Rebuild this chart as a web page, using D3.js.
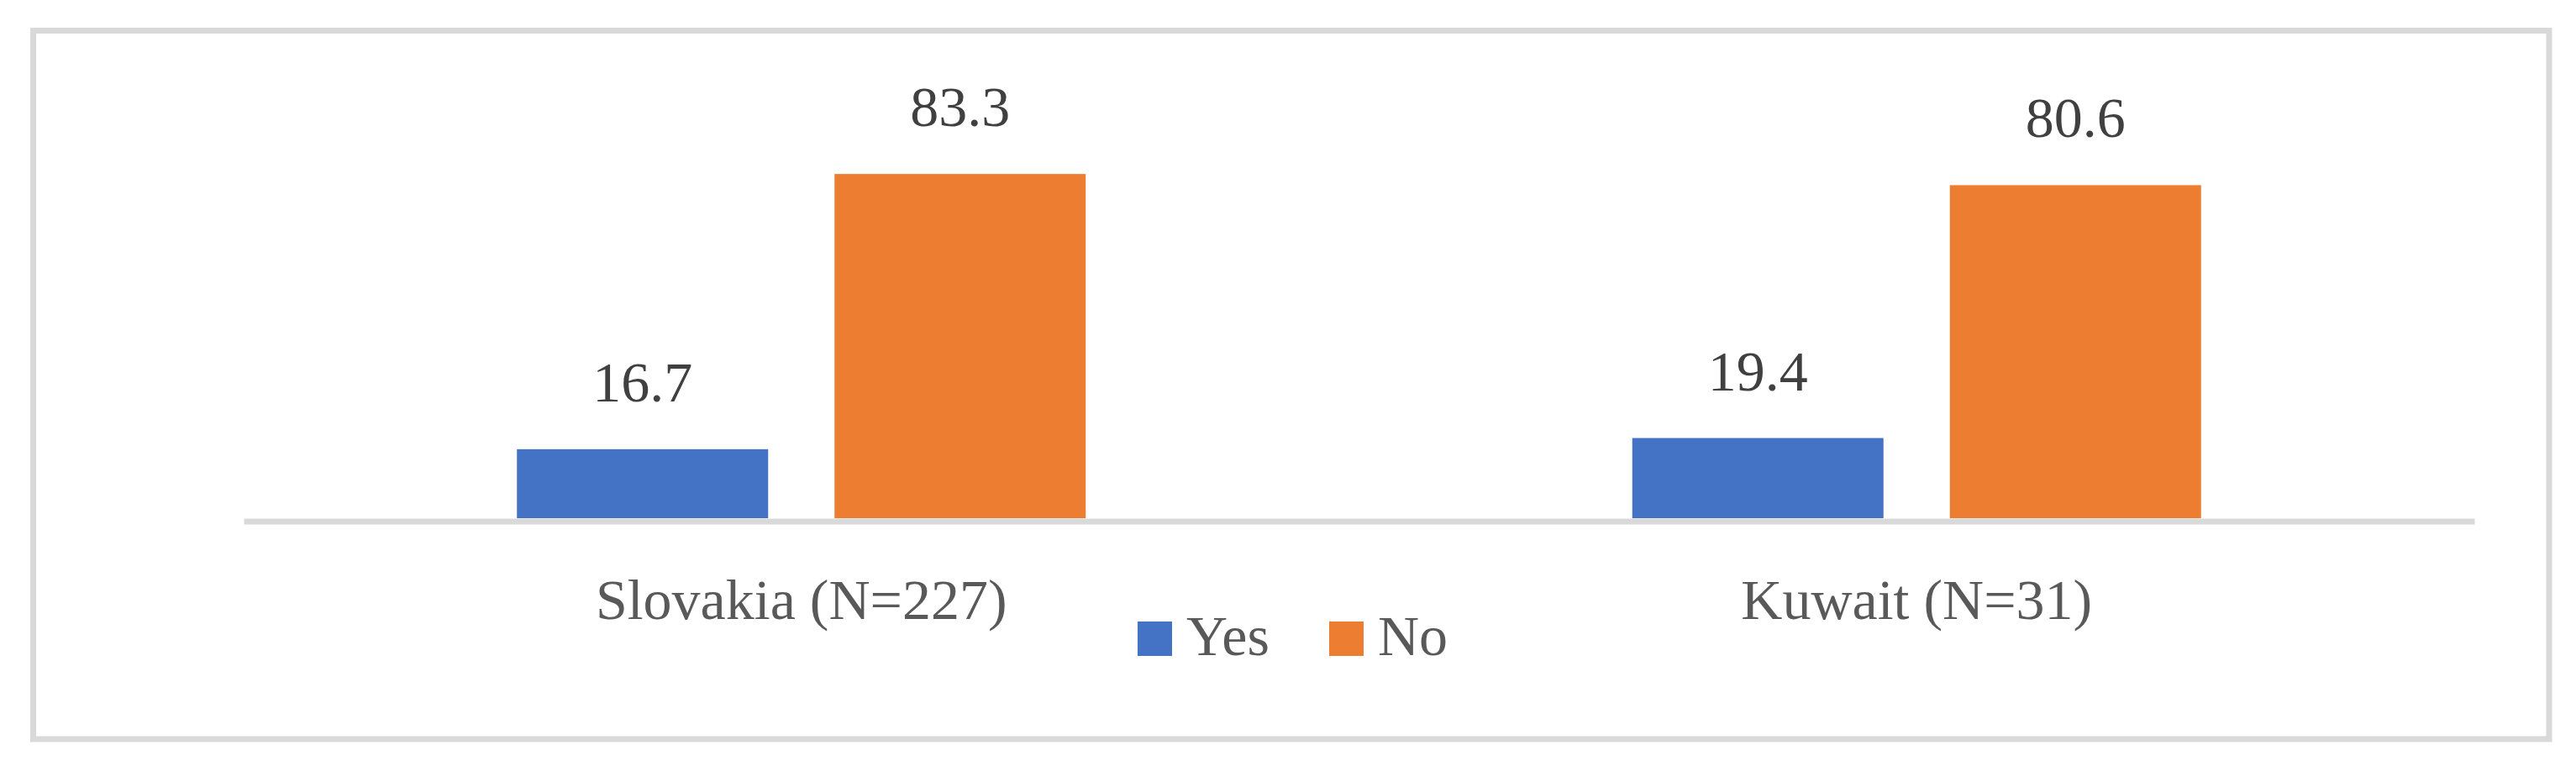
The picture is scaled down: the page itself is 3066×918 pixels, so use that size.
<!DOCTYPE html>
<html>
<head>
<meta charset="utf-8">
<script src="https://cdn.jsdelivr.net/npm/d3@7"></script>
<style>
  html, body { margin: 0; padding: 0; background: #ffffff; }
  svg { display: block; }
</style>
</head>
<body>
<svg id="chart" width="3066" height="918"></svg>
<script>
const categories = ["Slovakia (N=227)", "Kuwait (N=31)"];
const seriesNames = ["Yes", "No"];
const yesValues = [16.7, 19.4];
const noValues = [83.3, 80.6];
const seriesColors = ["#4472C4", "#ED7D31"];

const W = 3066, H = 918;
const svg = d3.select("#chart");
const font = "'Liberation Serif', 'Times New Roman', serif";

// outer frame
svg.append("rect")
  .attr("x", 39.5).attr("y", 36.5)
  .attr("width", 3034 - 39.5).attr("height", 880 - 36.5)
  .attr("fill", "#ffffff")
  .attr("stroke", "#D9D9D9").attr("stroke-width", 7);

const plotLeft = 290, plotRight = 2945;
const baseY = 617;

const x0 = d3.scaleBand().domain(categories).range([plotLeft, plotRight]).paddingInner(0).paddingOuter(0);
const groupPad = 325.25;
const x1 = d3.scaleBand().domain(seriesNames)
  .range([groupPad, x0.bandwidth() - groupPad])
  .paddingInner(0.209).paddingOuter(0);
const y = d3.scaleLinear().domain([0, 100]).range([baseY, baseY - 492]);

const table = categories.map((c, i) => ({
  category: c,
  values: [{ s: "Yes", v: yesValues[i] }, { s: "No", v: noValues[i] }]
}));
const color = d3.scaleOrdinal().domain(seriesNames).range(seriesColors);

const groups = svg.append("g").selectAll("g").data(table).join("g")
  .attr("transform", d => `translate(${x0(d.category)},0)`);

groups.selectAll("rect").data(d => d.values).join("rect")
  .attr("x", d => x1(d.s))
  .attr("y", d => y(d.v))
  .attr("width", x1.bandwidth())
  .attr("height", d => y(0) - y(d.v))
  .attr("fill", d => color(d.s));

groups.selectAll("text.val").data(d => d.values).join("text")
  .attr("class", "val")
  .attr("x", d => x1(d.s) + x1.bandwidth() / 2)
  .attr("y", d => y(d.v) - 57)
  .attr("text-anchor", "middle")
  .attr("font-family", font)
  .attr("font-size", 68)
  .attr("fill", "#404040")
  .text(d => d.v.toFixed(1));

// x axis
const axisG = svg.append("g")
  .attr("transform", `translate(0,${baseY + 3.5})`)
  .call(d3.axisBottom(x0).tickSize(0).tickSizeOuter(0));
axisG.select(".domain").attr("stroke", "#D9D9D9").attr("stroke-width", 7);
axisG.selectAll(".tick text")
  .attr("dy", null)
  .attr("y", 737 - (baseY + 3.5))
  .attr("font-family", font)
  .attr("font-size", 68)
  .attr("fill", "#595959");

// legend
const legendX = [1354, 1582];
const leg = svg.append("g").selectAll("g").data(seriesNames).join("g")
  .attr("transform", (d, i) => `translate(${legendX[i]},740)`);
leg.append("rect")
  .attr("width", 41).attr("height", 41)
  .attr("fill", d => color(d));
leg.append("text")
  .attr("x", 58).attr("y", 40)
  .attr("font-family", font)
  .attr("font-size", 68)
  .attr("fill", "#595959")
  .text(d => d);
</script>
</body>
</html>
